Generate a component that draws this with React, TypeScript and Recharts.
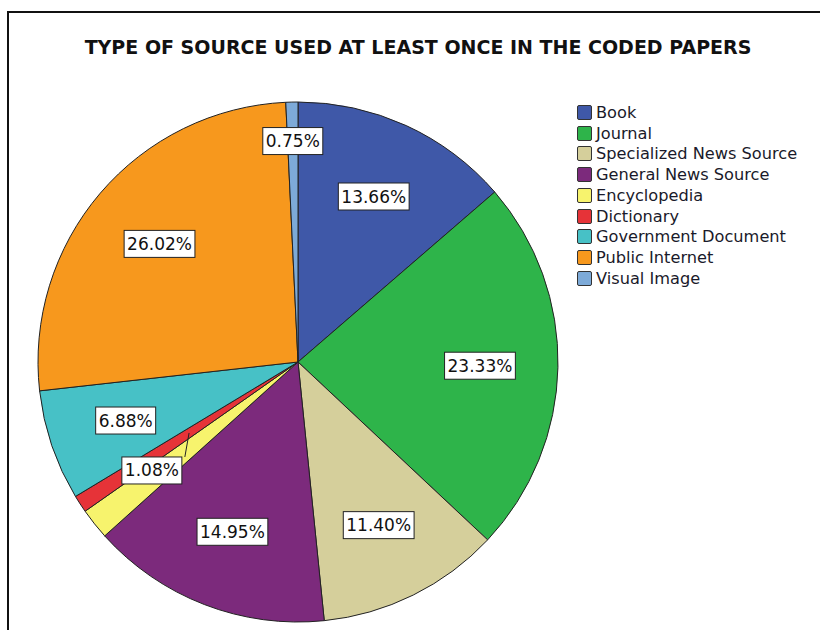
import { Legend, Pie, PieChart, Cell } from 'recharts'

const categories = [
  'Book',
  'Journal',
  'Specialized News Source',
  'General News Source',
  'Encyclopedia',
  'Dictionary',
  'Government Document',
  'Public Internet',
  'Visual Image',
]

const shares = [13.66, 23.33, 11.4, 14.95, 1.93, 1.08, 6.88, 26.02, 0.75]

const colors = [
  '#3f58a8',
  '#2eb44a',
  '#d5cf9b',
  '#7c2a7c',
  '#f7f36d',
  '#e63338',
  '#47c1c6',
  '#f7981d',
  '#7daad8',
]

// labels SPSS dropped because they collided
const hiddenLabels = ['Encyclopedia']

const title = 'TYPE OF SOURCE USED AT LEAST ONCE IN THE CODED PAPERS'

const data = categories.map((name, i) => ({ name, value: shares[i] }))

const RAD = Math.PI / 180
const FONT = '"DejaVu Sans", Verdana, sans-serif'

function SliceLabel(props: any) {
  const { cx, cy, midAngle, outerRadius, value, name } = props
  if (hiddenLabels.includes(name)) return null
  const small = value < 1
  const leader = value < 1.5 && !small
  const r = outerRadius * (small ? 0.85 : 0.7)
  const ang = leader ? midAngle + 3.5 : midAngle
  const x = cx + r * Math.cos(-ang * RAD)
  const y = cy + r * Math.sin(-ang * RAD)
  const text = `${value.toFixed(2)}%`
  const w = text.length * 10.8 + 6
  const h = 27
  let line = null
  if (leader) {
    const lx = cx + outerRadius * 0.5 * Math.cos(-midAngle * RAD)
    const ly = cy + outerRadius * 0.5 * Math.sin(-midAngle * RAD)
    line = <line x1={lx} y1={ly} x2={x + 33} y2={y - h / 2} stroke='#222' strokeWidth={1} />
  }
  return (
    <g>
      {line}
      <rect x={x - w / 2} y={y - h / 2} width={w} height={h} fill='#fff' stroke='#222' strokeWidth={1} />
      <text x={x} y={y + 1} textAnchor='middle' dominantBaseline='middle' fontFamily={FONT} fontSize={17} fill='#111'>
        {text}
      </text>
    </g>
  )
}

function LegendList() {
  return (
    <div style={{ fontFamily: FONT, fontSize: 16.2, color: '#1a1a2a' }}>
      {categories.map((name, i) => (
        <div key={name} style={{ display: 'flex', alignItems: 'center', height: 20.75, whiteSpace: 'nowrap' }}>
          <span
            style={{
              display: 'inline-block',
              width: 15,
              height: 15,
              background: colors[i],
              border: '1px solid #333',
              borderRadius: 2,
              boxSizing: 'border-box',
              marginRight: 4,
            }}
          />
          {name}
        </div>
      ))}
    </div>
  )
}

export default function App() {
  return (
    <div style={{ position: 'absolute', left: 0, top: 0, width: 820, height: 630, background: '#fff', overflow: 'hidden' }}>
      <div
        style={{
          position: 'absolute',
          left: 7,
          top: 11,
          width: 830,
          height: 640,
          borderTop: '2px solid #111',
          borderLeft: '2px solid #111',
        }}
      />
      <div
        style={{
          position: 'absolute',
          left: 0,
          top: 36,
          width: 836,
          textAlign: 'center',
          fontFamily: FONT,
          fontWeight: 'bold',
          fontSize: 19,
          color: '#111',
        }}
      >
        {title}
      </div>
      <div style={{ position: 'absolute', left: 0, top: 0 }}>
        <PieChart width={820} height={630}>
          <Pie
            data={data}
            dataKey='value'
            nameKey='name'
            cx={293}
            cy={357}
            outerRadius={260}
            startAngle={90}
            endAngle={-270}
            stroke='#222'
            strokeWidth={1}
            label={SliceLabel}
            labelLine={false}
            isAnimationActive={false}
          >
            {data.map((d, i) => (
              <Cell key={d.name} fill={colors[i]} />
            ))}
          </Pie>
          <Legend
            layout='vertical'
            verticalAlign='top'
            align='right'
            content={LegendList}
            wrapperStyle={{ left: 577, top: 102, width: 240 }}
          />
        </PieChart>
      </div>
    </div>
  )
}
